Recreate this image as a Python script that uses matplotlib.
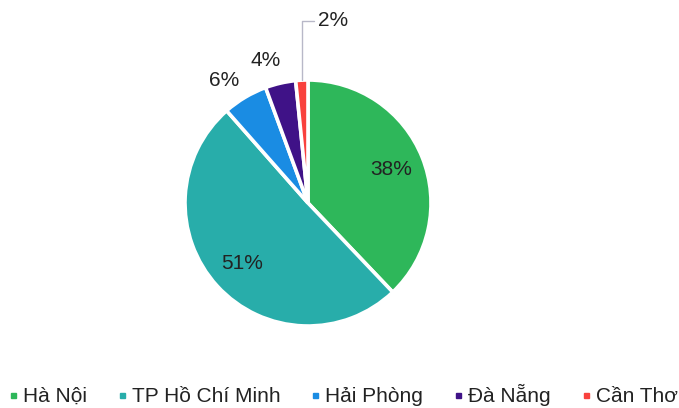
import numpy as np
import matplotlib
matplotlib.use("Agg")
import matplotlib.pyplot as plt
from matplotlib.lines import Line2D

cities = ["Hà Nội", "TP Hồ Chí Minh", "Hải Phòng", "Đà Nẵng", "Cần Thơ"]
shares = [37.9, 50.6, 5.9, 4.0, 1.6]
colors = ["#2EB75A", "#28ADAA", "#1A8CE3", "#3F1287", "#F9413D"]

plt.rcParams["font.family"] = ["Liberation Sans", "DejaVu Sans"]

fig = plt.figure(figsize=(6.79, 4.08), dpi=100)
# pie centre ~ (308, 203) px, radius ~123 px
ax = fig.add_axes([(308 - 123) / 679, (408 - 203 - 123) / 408, 246 / 679, 246 / 408])

wedges, texts, autotexts = ax.pie(
    shares, colors=colors, startangle=90, counterclock=False,
    autopct=lambda p: f"{p:.0f}%", pctdistance=0.73,
    wedgeprops=dict(edgecolor="white", linewidth=2.6),
    textprops=dict(fontsize=15, color="#222222"))
ax.set_xlim(-1, 1)
ax.set_ylim(-1, 1)
ax.set_aspect("equal")

# small slices: labels outside the pie
for w, t in zip(wedges, autotexts):
    t.set_clip_on(False)
    span = w.theta2 - w.theta1
    mid = np.deg2rad((w.theta1 + w.theta2) / 2)
    if span < 10:
        t.set_visible(False)
        ax.annotate(t.get_text(), xy=(np.cos(mid), np.sin(mid)),
                    xytext=(0.081, 1.435), ha="left", va="baseline",
                    fontsize=15, color="#222222", annotation_clip=False,
                    arrowprops=dict(arrowstyle="-", color="#B8B8C8", lw=1.0,
                                    shrinkA=1, shrinkB=0,
                                    connectionstyle="angle,angleA=0,angleB=90,rad=0"))
    elif span < 30:
        a = mid + np.deg2rad(3.5)
        t.set_position((1.21 * np.cos(a), 1.21 * np.sin(a)))

handles = [Line2D([], [], marker="s", linestyle="none", markersize=3.6,
                  markerfacecolor=c, markeredgecolor=c) for c in colors]
fig.legend(handles, cities, loc="center left", bbox_to_anchor=(0.0108, 0.032),
           ncol=5, frameon=False, fontsize=15, handlelength=0.5,
           handletextpad=0.23, columnspacing=1.43, borderpad=0, borderaxespad=0,
           labelcolor="#222222")

fig.savefig("out.png", dpi=100)
